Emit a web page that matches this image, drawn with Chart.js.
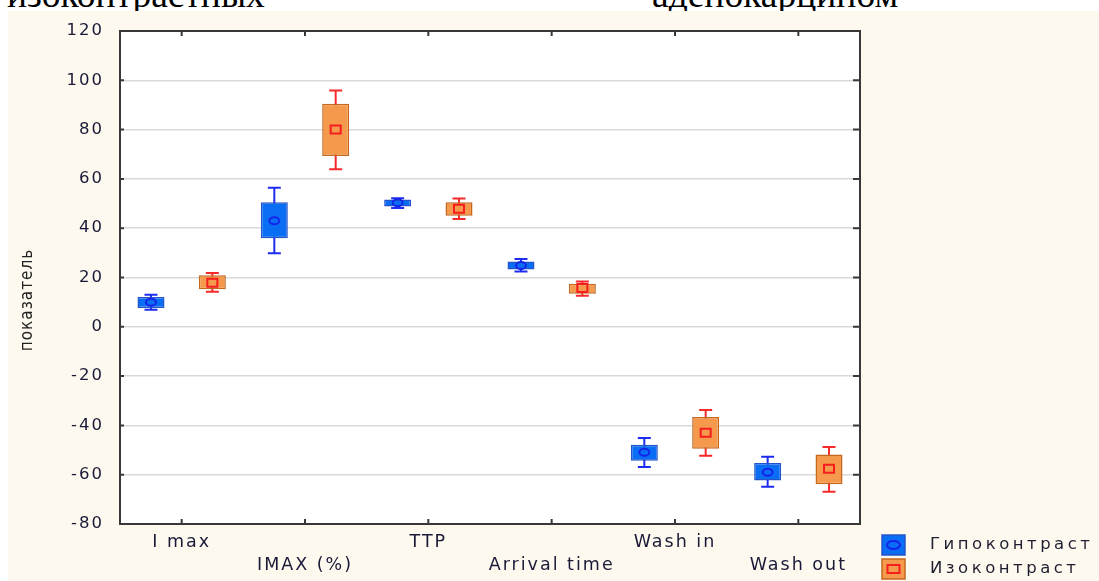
<!DOCTYPE html>
<html>
<head>
<meta charset="utf-8">
<script src="https://cdn.jsdelivr.net/npm/chart.js@4.4.1/dist/chart.umd.min.js"></script>
<style>
  html, body { margin:0; padding:0; background:#ffffff; width:1099px; height:581px; overflow:hidden; position:relative; }
  .doc { position:absolute; top:-24px; font-family:"Liberation Serif","Times New Roman",serif; font-size:37.5px; line-height:1; color:#000; white-space:nowrap; z-index:0; }
  #wrap { position:absolute; left:8px; top:11px; width:1091px; height:570px; background:#fdf9ef; z-index:1; }
</style>
</head>
<body>
<div class="doc" style="left:7px;">изоконтрастных</div>
<div class="doc" style="left:652px;">аденокарцином</div>
<div id="wrap"><canvas id="c"></canvas></div>
<script>
const categories = ['I max', 'IMAX (%)', 'TTP', 'Arrival time', 'Wash in', 'Wash out'];
const seriesNames = ['Гипоконтраст', 'Изоконтраст'];
const yTickValues = [-80, -60, -40, -20, 0, 20, 40, 60, 80, 100, 120];
const yTitle = 'показатель';

const hypoMin = [6.9, 29.8, 48.2, 22.4, -56.9, -64.9];
const hypoQ1  = [7.6, 35.9, 48.8, 23.2, -54.3, -62.4];
const hypoMed = [10.0, 43.0, 50.3, 24.9, -50.9, -59.0];
const hypoQ3  = [12.1, 50.5, 51.6, 26.5, -47.8, -55.3];
const hypoMax = [13.0, 56.4, 52.2, 27.5, -45.1, -52.7];

const isoMin = [14.2, 63.9, 43.7, 12.6, -52.3, -66.9];
const isoQ1  = [15.2, 69.3, 45.1, 13.4, -49.5, -63.9];
const isoMed = [17.9, 80.0, 47.9, 15.7, -43.0, -57.6];
const isoQ3  = [20.9, 90.5, 50.5, 17.5, -36.6, -51.8];
const isoMax = [21.8, 95.9, 52.0, 18.4, -33.8, -48.8];

const styles = [
  { fill:'#0a6ef5', border:'#2455c8', whisker:'#1c2cf0', marker:'#1424e8', shape:'ellipse' },
  { fill:'#f59a4c', border:'#c4681f', whisker:'#f52a2a', marker:'#f51e1e', shape:'rect' }
];
const stats = [
  { min:hypoMin, med:hypoMed, max:hypoMax },
  { min:isoMin, med:isoMed, max:isoMax }
];

function drawMarker(ctx, shape, x, y, color) {
  ctx.save();
  ctx.strokeStyle = color; ctx.lineWidth = 2;
  ctx.beginPath();
  if (shape === 'ellipse') ctx.ellipse(x, y, 5, 3.5, 0, 0, Math.PI*2);
  else ctx.rect(x-5, y-4, 10, 8);
  ctx.stroke();
  ctx.restore();
}

const boxPlugin = {
  id: 'boxplot',
  beforeDraw(chart) {
    const {ctx, chartArea:a} = chart;
    ctx.save();
    ctx.fillStyle = '#ffffff';
    ctx.fillRect(a.left, a.top, a.right-a.left, a.bottom-a.top);
    ctx.restore();
    ctx.letterSpacing = '2px';
  },
  beforeDatasetsDraw(chart) {
    const {ctx} = chart; const ys = chart.scales.y;
    stats.forEach((s, i) => {
      const meta = chart.getDatasetMeta(i);
      meta.data.forEach((bar, j) => {
        const x = bar.x, yMin = ys.getPixelForValue(s.min[j]), yMax = ys.getPixelForValue(s.max[j]);
        ctx.save();
        ctx.strokeStyle = styles[i].whisker; ctx.lineWidth = 2;
        ctx.beginPath();
        ctx.moveTo(x, yMin); ctx.lineTo(x, yMax);
        ctx.moveTo(x-6.5, yMin); ctx.lineTo(x+6.5, yMin);
        ctx.moveTo(x-6.5, yMax); ctx.lineTo(x+6.5, yMax);
        ctx.stroke();
        ctx.restore();
      });
    });
  },
  afterDatasetsDraw(chart) {
    const {ctx, chartArea:a} = chart; const ys = chart.scales.y; const xs = chart.scales.x;
    stats.forEach((s, i) => {
      const meta = chart.getDatasetMeta(i);
      meta.data.forEach((bar, j) => {
        drawMarker(ctx, styles[i].shape, bar.x, ys.getPixelForValue(s.med[j]), styles[i].marker);
      });
    });
    ctx.save();
    ctx.strokeStyle = '#383838'; ctx.lineWidth = 2;
    ctx.beginPath();
    xs.ticks.forEach((t, k) => {
      const x = xs.getPixelForTick(k);
      ctx.moveTo(x, a.bottom); ctx.lineTo(x, a.bottom-5);
      ctx.moveTo(x, a.top); ctx.lineTo(x, a.top+5);
    });
    ys.ticks.forEach((t, k) => {
      const y = ys.getPixelForValue(t.value);
      ctx.moveTo(a.right, y); ctx.lineTo(a.right-7, y);
      ctx.moveTo(a.left, y); ctx.lineTo(a.left+4, y);
    });
    ctx.stroke();
    ctx.strokeRect(a.left, a.top, a.right-a.left, a.bottom-a.top);
    ctx.restore();
  },
  afterDraw(chart) {
    const {ctx, chartArea:a} = chart;
    ctx.save();
    ctx.translate(24, 289);
    ctx.rotate(-Math.PI/2);
    ctx.letterSpacing = '1px';
    ctx.font = '17px "Liberation Sans Narrow", "DejaVu Sans Condensed", sans-serif';
    ctx.fillStyle = '#222222';
    ctx.textAlign = 'center'; ctx.textBaseline = 'alphabetic';
    ctx.fillText(yTitle, 0, 0);
    ctx.restore();
    const lx = a.right + 22, ly = a.bottom + 11;
    seriesNames.forEach((name, i) => {
      const y = ly + i*24;
      ctx.save();
      ctx.fillStyle = styles[i].fill; ctx.strokeStyle = styles[i].border; ctx.lineWidth = 1.5;
      ctx.fillRect(lx, y, 23, 20); ctx.strokeRect(lx, y, 23, 20);
      ctx.strokeStyle = styles[i].marker; ctx.lineWidth = 2;
      ctx.beginPath();
      if (styles[i].shape === 'ellipse') ctx.ellipse(lx+11.5, y+10, 6.5, 4, 0, 0, Math.PI*2);
      else ctx.rect(lx+5.5, y+6, 12, 8);
      ctx.stroke();
      ctx.letterSpacing = '3.5px';
      ctx.font = '16.5px "DejaVu Sans", sans-serif';
      ctx.fillStyle = '#1e1e30';
      ctx.textAlign = 'left'; ctx.textBaseline = 'middle';
      ctx.fillText(name, lx + 48, y + 10);
      ctx.restore();
    });
  }
};

new Chart(document.getElementById('c'), {
  type: 'bar',
  data: {
    labels: categories,
    datasets: [
      { label: seriesNames[0], data: hypoQ1.map((v, j) => [v, hypoQ3[j]]),
        backgroundColor: styles[0].fill, borderColor: styles[0].border, borderWidth: 1.5, borderSkipped: false,
        categoryPercentage: 0.995, barPercentage: 0.44 },
      { label: seriesNames[1], data: isoQ1.map((v, j) => [v, isoQ3[j]]),
        backgroundColor: styles[1].fill, borderColor: styles[1].border, borderWidth: 1.5, borderSkipped: false,
        categoryPercentage: 0.995, barPercentage: 0.44 }
    ]
  },
  options: {
    responsive: true, maintainAspectRatio: false, animation: false,
    layout: { padding: { top: 20, right: 239, left: 0, bottom: 0 } },
    plugins: { legend: { display: false }, tooltip: { enabled: false } },
    scales: {
      x: {
        offset: true,
        grid: { display: false, drawTicks: false },
        border: { display: false },
        ticks: {
          autoSkip: false, maxRotation: 0, minRotation: 0, padding: 7,
          color: '#1a1a38',
          font: { family: '"DejaVu Sans", sans-serif', size: 17.5, lineHeight: '23px' },
          callback: function(v, i) { const l = categories[i]; return i % 2 === 0 ? [l] : ['', l]; }
        },
        afterFit(scale) { scale.height = 57; scale.paddingLeft = 0; scale.paddingRight = 0; }
      },
      y: {
        min: -80, max: 120,
        grid: { color: '#d9d9d9', lineWidth: 1.5, drawTicks: false },
        border: { display: false },
        ticks: {
          padding: 16, color: '#1a1a38',
          font: { family: '"DejaVu Sans", sans-serif', size: 16.5 }
        },
        afterBuildTicks(scale) { scale.ticks = yTickValues.map(v => ({ value: v })); },
        afterFit(scale) { scale.width = 112; scale.paddingTop = 0; scale.paddingBottom = 0; }
      }
    }
  },
  plugins: [boxPlugin]
});
</script>
</body>
</html>
